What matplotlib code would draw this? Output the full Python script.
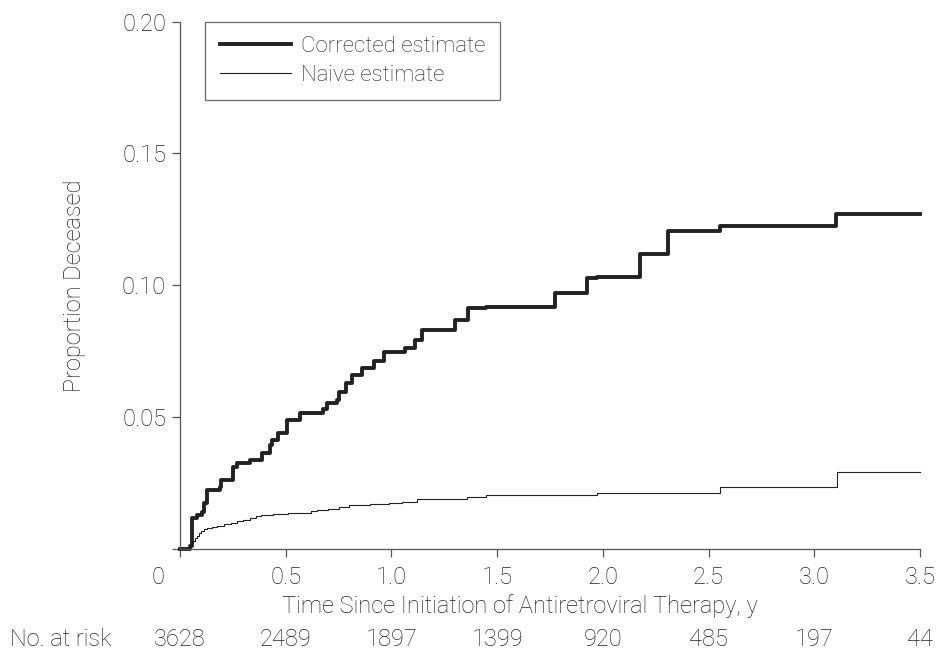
import numpy as np
import matplotlib
matplotlib.use('Agg')
import matplotlib.pyplot as plt
from matplotlib import transforms

## ------------- data -------------
corr_t = [0.0, 0.047, 0.057, 0.080, 0.104, 0.114, 0.128, 0.189, 0.194, 0.251,
          0.270, 0.331, 0.388, 0.426, 0.435, 0.464, 0.506, 0.568, 0.676, 0.695,
          0.743, 0.752, 0.785, 0.814, 0.861, 0.917, 0.965, 1.064, 1.112, 1.145,
          1.300, 1.362, 1.447, 1.774, 1.925, 1.970, 2.176, 2.308, 2.554, 3.103, 3.5]
corr_p = [0.0, 0.0010, 0.0117, 0.0129, 0.0140, 0.0174, 0.0223, 0.0235, 0.0261, 0.0311,
          0.0326, 0.0337, 0.0364, 0.0394, 0.0413, 0.0440, 0.0489, 0.0515, 0.0530, 0.0553,
          0.0564, 0.0595, 0.0629, 0.0659, 0.0686, 0.0712, 0.0746, 0.0761, 0.0792, 0.0830,
          0.0867, 0.0913, 0.0917, 0.0970, 0.1027, 0.1030, 0.1117, 0.1205, 0.1223, 0.1269, 0.1269]

naive_t = [0.0, 0.038, 0.045, 0.052, 0.061, 0.070, 0.080, 0.090, 0.100, 0.115,
           0.130, 0.150, 0.175, 0.210, 0.240, 0.270, 0.300, 0.330, 0.360, 0.385,
           0.440, 0.510, 0.590, 0.620, 0.650, 0.700, 0.750, 0.800, 0.900, 0.990,
           1.050, 1.120, 1.358, 1.447, 1.973, 2.554, 3.108, 3.5]
naive_p = [0.0, 0.0008, 0.0015, 0.0022, 0.0030, 0.0040, 0.0050, 0.0060, 0.0068, 0.0075,
           0.0080, 0.0085, 0.0089, 0.0093, 0.0098, 0.0105, 0.0111, 0.0118, 0.0124, 0.0130,
           0.0132, 0.0135, 0.0138, 0.0143, 0.0148, 0.0153, 0.0160, 0.0166, 0.0170, 0.0175,
           0.0180, 0.0188, 0.0198, 0.0205, 0.0213, 0.0236, 0.0293, 0.0293]

xticks = [0, 0.5, 1.0, 1.5, 2.0, 2.5, 3.0, 3.5]
xtick_labels = ['', '0.5', '1.0', '1.5', '2.0', '2.5', '3.0', '3.5']
yticks = [0, 0.05, 0.10, 0.15, 0.20]
ytick_labels = ['', '0.05', '0.10', '0.15', '0.20']
at_risk = [3628, 2489, 1897, 1399, 920, 485, 197, 44]

## ------------- style -------------
plt.rcParams['font.family'] = ['Roboto', 'DejaVu Sans']
plt.rcParams['font.weight'] = 'light'
plt.rcParams['axes.labelweight'] = 'light'
ink = '#222222'
fs = 17

fig = plt.figure(figsize=(9.4, 6.56), dpi=100)
ax = fig.add_axes([0.1915, 0.1631, 0.7872, 0.8041])

ax.step(corr_t, corr_p, where='post', color=ink, lw=2.8,
        label='Corrected estimate', clip_on=False)
ax.step(naive_t, naive_p, where='post', color=ink, lw=0.8,
        label='Naive estimate', clip_on=False)

ax.set_xlim(0, 3.5)
ax.set_ylim(0, 0.20)
ax.set_xticks(xticks)
ax.set_xticklabels(xtick_labels)
ax.set_yticks(yticks)
ax.set_yticklabels(ytick_labels)
for s in ['top', 'right']:
    ax.spines[s].set_visible(False)
for s in ['left', 'bottom']:
    ax.spines[s].set_color('#555555')
    ax.spines[s].set_linewidth(0.9)
ax.tick_params(direction='out', length=6, width=0.9, color='#555555',
               labelsize=fs, labelcolor=ink)
ax.tick_params(axis='x', pad=6)
ax.tick_params(axis='y', pad=4)

# shared origin label sits left of the corner
ax.annotate('0', xy=(0, 0), xycoords='data', xytext=(-16, -12),
            textcoords='offset points', ha='center', va='top',
            fontsize=fs, color=ink)

ax.set_xlabel('Time Since Initiation of Antiretroviral Therapy, y',
              fontsize=fs, color=ink)
ax.xaxis.set_label_coords(0.459, -0.085)
ax.set_ylabel('Proportion Deceased', fontsize=fs, color=ink, labelpad=26)

leg = ax.legend(loc='upper left', bbox_to_anchor=(0.034, 1.0), borderaxespad=0,
                fontsize=16, frameon=True, fancybox=False, handlelength=3.2,
                handletextpad=0.45, borderpad=0.65, labelspacing=0.35)
leg.get_frame().set_edgecolor('#444444')
leg.get_frame().set_linewidth(0.9)
for t in leg.get_texts():
    t.set_color(ink)

# number at risk row
trans = transforms.blended_transform_factory(ax.transData, fig.transFigure)
fig.text(10 / 940, 0.0244, 'No. at risk', fontsize=fs, color=ink,
         ha='left', va='center')
for x, n in zip(xticks, at_risk):
    ax.text(x, 0.0244, str(n), transform=trans, fontsize=fs, color=ink,
            ha='center', va='center')

fig.savefig('out.png', dpi=100)
